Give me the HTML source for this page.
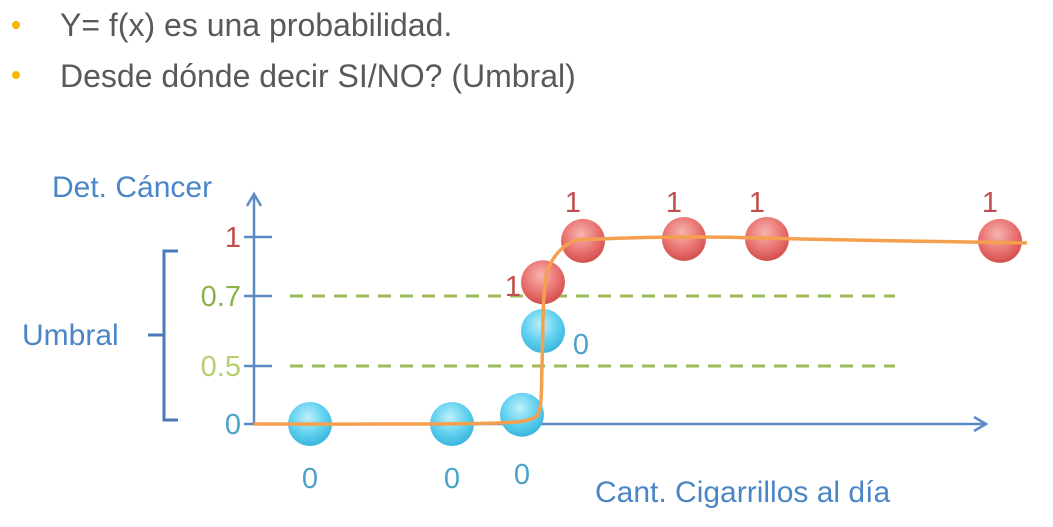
<!DOCTYPE html>
<html><head><meta charset="utf-8"><style>
body{margin:0;background:#fff;width:1053px;height:522px;overflow:hidden;font-family:"Liberation Sans",sans-serif}
</style></head><body>
<svg id="chart" width="1053" height="522">
<defs>
<radialGradient id="gb" cx="45%" cy="35%" r="65%"><stop offset="0" stop-color="#bff0fb"/><stop offset="0.6" stop-color="#5fd0ef"/><stop offset="1" stop-color="#3bb5dc"/></radialGradient>
<radialGradient id="gr" cx="45%" cy="35%" r="65%"><stop offset="0" stop-color="#f7b4b2"/><stop offset="0.6" stop-color="#e97471"/><stop offset="1" stop-color="#d24f4c"/></radialGradient>
</defs>
<g>
<circle cx="16" cy="25" r="4" fill="#f5b800"/>
<text x="60" y="36" font-size="32" fill="#595959">Y= f(x) es una probabilidad.</text>
<circle cx="16" cy="75" r="4" fill="#f5b800"/>
<text x="60" y="87" font-size="32" fill="#595959">Desde dónde decir SI/NO? (Umbral)</text>
</g>
<text x="52" y="197" font-size="30" fill="#4a86c5">Det. Cáncer</text>
<text x="595" y="502" font-size="30" fill="#4a86c5">Cant. Cigarrillos al día</text>
<text x="22" y="345" font-size="30" fill="#4a86c5">Umbral</text>
<path d="M178,251 H164 V420 H178 M164,335 H148" fill="none" stroke="#4a78b8" stroke-width="3"/>
<g id="axes"></g>
<g id="marks"></g>
</svg>
<script>
const yTickValues=[0,0.5,0.7,1];
const yTickLabels=["0","0.5","0.7","1"];
const yTickColors=["#4aa3c8","#b5cf6e","#8db04a","#c0504d"];
const thresholds=[0.7,0.5];
const blueX=[5.6,19.8,26.8,28.9];
const blueY=[0,0,0.08,0.6];
const redX=[28.9,32.9,43,51.3,74.6];
const redY=[0.77,0.98,0.99,0.99,0.98];
const curveX=[0,16.6,24.6,27.6,28.6,28.8,29.0,29.6,31.6,34.6,44.6,54.6,64.6,77.3];
const curveY=[0,0,0.01,0.04,0.14,0.5,0.7,0.86,0.97,0.99,1,0.99,0.98,0.97];
const tickPx=[424,366,296,237];
function xs(v){return 254+v*10;}
function ys(v){
  for(let i=0;i<yTickValues.length-1;i++){
    if(v<=yTickValues[i+1]){const t=(v-yTickValues[i])/(yTickValues[i+1]-yTickValues[i]);return tickPx[i]+t*(tickPx[i+1]-tickPx[i]);}
  }
  return tickPx[3];
}
const NS="http://www.w3.org/2000/svg";
function mk(p,tag,attrs){const e=document.createElementNS(NS,tag);for(const k in attrs)e.setAttribute(k,attrs[k]);p.appendChild(e);return e;}
const axes=document.getElementById('axes'),marks=document.getElementById('marks');
thresholds.forEach(v=>{const l=mk(axes,'line',{x1:290,x2:895,y1:ys(v),y2:ys(v),stroke:'#9dbb5a','stroke-width':3,'stroke-dasharray':'13 9'});

});
let ax=mk(axes,'path',{d:'M254,424 V196 M247,206 L254,194 L261,206 M254,424 H984 M974,417 L986,424 L974,431',fill:'none',stroke:'#5b8ac6','stroke-width':2.5});


yTickValues.forEach((v,i)=>{
  const t=mk(axes,'line',{x1:244,x2:272,y1:ys(v),y2:ys(v),stroke:'#5b8ac6','stroke-width':2.5});
  
  
  const tx=mk(axes,'text',{x:241,y:ys(v)+10,'text-anchor':'end','font-size':29,fill:yTickColors[i]});
  tx.textContent=yTickLabels[i];
  
  
});
function dot(x,y,blue){const c=mk(marks,'circle',{cx:xs(x),cy:ys(y),r:22,fill:blue?'url(#gb)':'url(#gr)'});

}
blueX.forEach((x,i)=>dot(x,blueY[i],true));
redX.forEach((x,i)=>dot(x,redY[i],false));
const P=curveX.map((x,i)=>[xs(x),ys(curveY[i])]);
let d='M'+P[0][0]+','+P[0][1];
for(let i=0;i<P.length-1;i++){
  const p0=P[Math.max(0,i-1)],p1=P[i],p2=P[i+1],p3=P[Math.min(P.length-1,i+2)];
  const c1=[p1[0]+(p2[0]-p0[0])/6,p1[1]+(p2[1]-p0[1])/6];
  const c2=[p2[0]-(p3[0]-p1[0])/6,p2[1]-(p3[1]-p1[1])/6];
  d+=' C'+c1[0]+','+c1[1]+' '+c2[0]+','+c2[1]+' '+p2[0]+','+p2[1];
}
const cv=mk(marks,'path',{d:d,fill:'none',stroke:'#f5a04e','stroke-width':3.5,'stroke-linejoin':'round'});


blueX.forEach((x,i)=>{
  let lx=xs(x),ly=478;
  if(blueY[i]>0.3){lx=xs(x)+38;ly=ys(blueY[i])+13;}
  else if(blueY[i]>0.03){ly=474;}
  const t=mk(marks,'text',{x:lx,y:ly+10,'text-anchor':'middle','font-size':29,fill:'#4aa3c8'});
  t.textContent='0';
  
  
});
redX.forEach((x,i)=>{
  let lx=xs(x)-10,ly=208;
  if(redY[i]<0.9){lx=xs(x)-30;ly=ys(redY[i])+10;}
  const t=mk(marks,'text',{x:lx,y:ly+4,'text-anchor':'middle','font-size':29,fill:'#c0504d'});
  t.textContent='1';
  
  
});
</script>
</body></html>
